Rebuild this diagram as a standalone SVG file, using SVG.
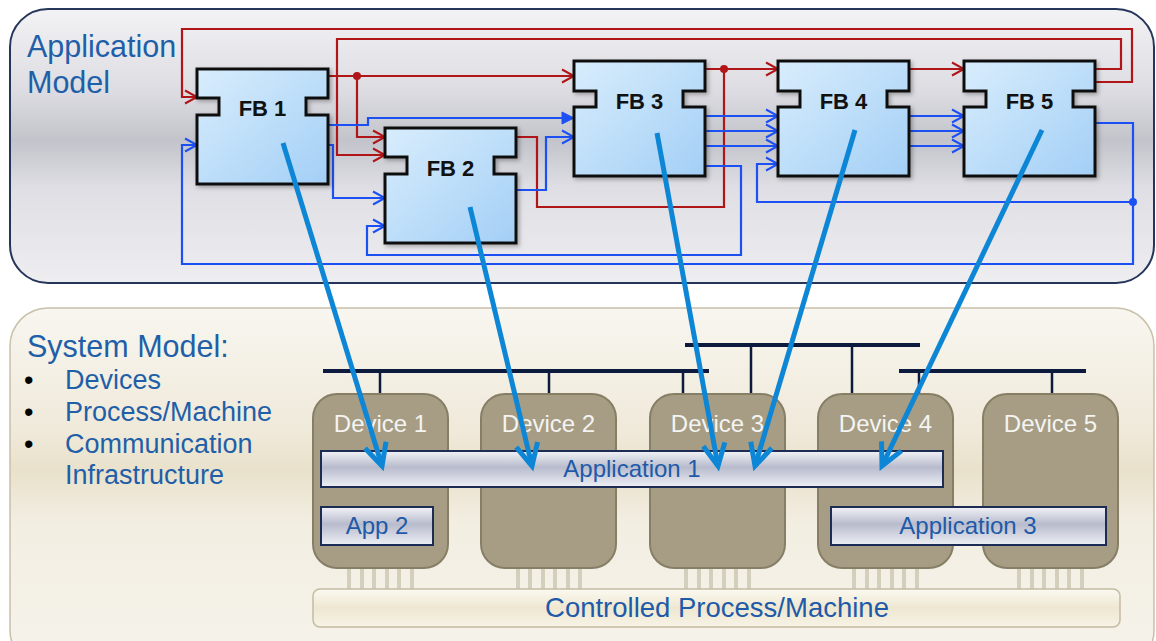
<svg xmlns="http://www.w3.org/2000/svg" width="1156" height="641" viewBox="0 0 1156 641">
<defs>
<linearGradient id="gApp" x1="0" y1="0" x2="0" y2="1">
<stop offset="0" stop-color="#f3f3f5"/><stop offset="0.3" stop-color="#dcdce2"/><stop offset="0.48" stop-color="#c3c3cb"/><stop offset="0.65" stop-color="#dedee4"/><stop offset="1" stop-color="#eeeef1"/>
</linearGradient>
<linearGradient id="gSys" x1="0" y1="0" x2="0" y2="1">
<stop offset="0" stop-color="#f8f6f0"/><stop offset="0.35" stop-color="#efe9d9"/><stop offset="0.45" stop-color="#e9e1cb"/><stop offset="0.6" stop-color="#f2eee2"/><stop offset="1" stop-color="#f6f3eb"/>
</linearGradient>
<linearGradient id="gFB" x1="0" y1="0" x2="1" y2="1">
<stop offset="0" stop-color="#d8edfc"/><stop offset="1" stop-color="#a3cff6"/>
</linearGradient>
<linearGradient id="gBar" x1="0" y1="0" x2="0" y2="1">
<stop offset="0" stop-color="#f2f3f7"/><stop offset="0.45" stop-color="#b7bbcc"/><stop offset="1" stop-color="#eef0f5"/>
</linearGradient>
<linearGradient id="gProc" x1="0" y1="0" x2="0" y2="1">
<stop offset="0" stop-color="#fbf9f1"/><stop offset="0.5" stop-color="#eee7d1"/><stop offset="1" stop-color="#f7f3e6"/>
</linearGradient>
<filter id="sh" x="-10%" y="-10%" width="130%" height="130%">
<feDropShadow dx="2" dy="2" stdDeviation="2" flood-color="#000" flood-opacity="0.3"/>
</filter>
<marker id="aR" markerUnits="userSpaceOnUse" markerWidth="16" markerHeight="16" refX="13" refY="7" orient="auto" overflow="visible">
<path d="M1,0.5 L13,7 L1,13.5" fill="none" stroke="#b01518" stroke-width="2"/>
</marker>
<marker id="aB" markerUnits="userSpaceOnUse" markerWidth="16" markerHeight="16" refX="13" refY="7" orient="auto" overflow="visible">
<path d="M1,0.5 L13,7 L1,13.5" fill="none" stroke="#1d50f2" stroke-width="2"/>
</marker>
<marker id="aBF" markerUnits="userSpaceOnUse" markerWidth="16" markerHeight="16" refX="13" refY="7" orient="auto" overflow="visible">
<path d="M1,1 L13,7 L1,13 Z" fill="#1d50f2" stroke="#1d50f2" stroke-width="1"/>
</marker>
<marker id="aM" markerUnits="userSpaceOnUse" markerWidth="30" markerHeight="30" refX="22" refY="11" orient="auto" overflow="visible">
<path d="M0,0 L22,11 L0,22" fill="none" stroke="#0e86d6" stroke-width="5"/>
</marker>
</defs>
<style>
.red{fill:none;stroke:#b01518;stroke-width:2.2}
.blue{fill:none;stroke:#1d50f2;stroke-width:2.2}
.map{fill:none;stroke:#0e86d6;stroke-width:5}
.fb{fill:url(#gFB);stroke:#111;stroke-width:3;filter:url(#sh)}
.fbt{font-family:"Liberation Sans",Arial,sans-serif;font-weight:bold;font-size:22px;fill:#111;text-anchor:middle}
.head{font-family:"Liberation Sans",Arial,sans-serif;font-size:30.5px;fill:#1f5fa8}
.item{font-family:"Liberation Sans",Arial,sans-serif;font-size:27px;fill:#1f5fa8}
.dev{fill:#a69d84;stroke:#877e66;stroke-width:2}
.devt{font-family:"Liberation Sans",Arial,sans-serif;font-size:24px;fill:#f4f4f2;text-anchor:middle}
.bar{fill:url(#gBar);stroke:#1c2c55;stroke-width:2}
.bart{font-family:"Liberation Sans",Arial,sans-serif;font-size:24px;fill:#1e5aa8;text-anchor:middle}
.bus{stroke:#0c1a3e;stroke-width:4;fill:none}
.drop{stroke:#0c1a3e;stroke-width:2.5;fill:none}
.pin{stroke:#b5ad96;stroke-width:3}
.pinh{stroke:#f3efe3;stroke-width:1}
</style>

<g id="application-model">
<rect x="10" y="9" width="1144" height="274" rx="38" fill="url(#gApp)" stroke="#26365a" stroke-width="2"/>
<text class="head" x="27" y="57">Application</text>
<text class="head" x="27" y="93">Model</text>
</g>

<g id="system-model">
<rect x="10" y="308" width="1144" height="360" rx="38" fill="url(#gSys)" stroke="#c9c0aa" stroke-width="1.5"/>
<text class="head" x="27" y="357">System Model:</text>
<text class="item" x="24" y="389" fill="#000" style="fill:#000">•</text>
<text class="item" x="65" y="389">Devices</text>
<text class="item" x="24" y="421" style="fill:#000">•</text>
<text class="item" x="65" y="421">Process/Machine</text>
<text class="item" x="24" y="453" style="fill:#000">•</text>
<text class="item" x="65" y="453">Communication</text>
<text class="item" x="65" y="484">Infrastructure</text>
</g>

<g id="communication">
<path class="bus" d="M323 371 H709 M685 345 H920 M899 371 H1086"/>
<path class="drop" d="M380 371 V394 M549 371 V394 M683 371 V394 M751 345 V394 M852 345 V394 M919 371 V394 M1052 371 V394"/>
</g>

<g id="pins">
<path class="pin" d="M349 569 V589 M362 569 V589 M374 569 V589 M387 569 V589 M399 569 V589 M412 569 V589 M518 569 V589 M530 569 V589 M543 569 V589 M555 569 V589 M568 569 V589 M580 569 V589 M686 569 V589 M699 569 V589 M711 569 V589 M724 569 V589 M736 569 V589 M749 569 V589 M854 569 V589 M867 569 V589 M879 569 V589 M892 569 V589 M904 569 V589 M917 569 V589 M1019 569 V589 M1032 569 V589 M1044 569 V589 M1057 569 V589 M1069 569 V589 M1082 569 V589"/>
<path class="pinh" d="M349 569 V589 M362 569 V589 M374 569 V589 M387 569 V589 M399 569 V589 M412 569 V589 M518 569 V589 M530 569 V589 M543 569 V589 M555 569 V589 M568 569 V589 M580 569 V589 M686 569 V589 M699 569 V589 M711 569 V589 M724 569 V589 M736 569 V589 M749 569 V589 M854 569 V589 M867 569 V589 M879 569 V589 M892 569 V589 M904 569 V589 M917 569 V589 M1019 569 V589 M1032 569 V589 M1044 569 V589 M1057 569 V589 M1069 569 V589 M1082 569 V589"/>
</g>

<g id="device1"><rect class="dev" x="313" y="394" width="135" height="174" rx="24"/><text class="devt" x="380.5" y="432">Device 1</text></g>
<g id="device2"><rect class="dev" x="481" y="394" width="135" height="174" rx="24"/><text class="devt" x="548.5" y="432">Device 2</text></g>
<g id="device3"><rect class="dev" x="650" y="394" width="135" height="174" rx="24"/><text class="devt" x="717.5" y="432">Device 3</text></g>
<g id="device4"><rect class="dev" x="818" y="394" width="135" height="174" rx="24"/><text class="devt" x="885.5" y="432">Device 4</text></g>
<g id="device5"><rect class="dev" x="983" y="394" width="135" height="174" rx="24"/><text class="devt" x="1050.5" y="432">Device 5</text></g>

<g id="application1"><rect class="bar" x="321" y="451" width="622" height="36"/><text class="bart" x="632" y="477">Application 1</text></g>
<g id="app2"><rect class="bar" x="321" y="507" width="112" height="38"/><text class="bart" x="377" y="534">App 2</text></g>
<g id="application3"><rect class="bar" x="831" y="507" width="275" height="38"/><text class="bart" x="968" y="534">Application 3</text></g>

<g id="process">
<rect x="313" y="589" width="807" height="38" rx="7" fill="url(#gProc)" stroke="#c4bba3" stroke-width="1.5"/>
<text x="717" y="617" text-anchor="middle" style="font-family:'Liberation Sans',Arial,sans-serif;font-size:27.5px;fill:#1e5aa8">Controlled Process/Machine</text>
</g>

<g id="connectors">
<path class="red" d="M1095 82 H1132 V29 H182 V97 H197" marker-end="url(#aR)"/>
<path class="red" d="M1095 69 H1121 V39 H337 V155 H385" marker-end="url(#aR)"/>
<path class="red" d="M328 76 H574" marker-end="url(#aR)"/>
<path class="red" d="M357 76 V137 H385" marker-end="url(#aR)"/>
<path class="red" d="M705 69 H778" marker-end="url(#aR)"/>
<path class="red" d="M516 137 H537 V207 H724 V69"/>
<path class="red" d="M909 69 H964" marker-end="url(#aR)"/>
<circle cx="357" cy="76" r="4" fill="#b01518"/>
<circle cx="724" cy="69" r="4" fill="#b01518"/>
<path class="blue" d="M328 125 H368 V118 H574" marker-end="url(#aBF)"/>
<path class="blue" d="M328 145 H333 V198 H385" marker-end="url(#aB)"/>
<path class="blue" d="M516 190 H546 V137 H574" marker-end="url(#aB)"/>
<path class="blue" d="M705 166 H741 V255 H367 V226 H385" marker-end="url(#aB)"/>
<path class="blue" d="M705 116 H778" marker-end="url(#aB)"/>
<path class="blue" d="M705 131 H778" marker-end="url(#aB)"/>
<path class="blue" d="M705 146 H778" marker-end="url(#aB)"/>
<path class="blue" d="M909 116 H964" marker-end="url(#aB)"/>
<path class="blue" d="M909 131 H964" marker-end="url(#aB)"/>
<path class="blue" d="M909 146 H964" marker-end="url(#aB)"/>
<path class="blue" d="M1095 123 H1133 V264 H182 V145 H197" marker-end="url(#aB)"/>
<path class="blue" d="M1133 202 H757 V164 H778" marker-end="url(#aB)"/>
<circle cx="1133" cy="202" r="4" fill="#1d50f2"/>
</g>

<g id="fb1"><path class="fb" d="M197 69 H328 V98 H306 V115 H328 V184 H197 V115 H219 V98 H197 Z"/><text class="fbt" x="262.5" y="116">FB 1</text></g>
<g id="fb2"><path class="fb" d="M385 128 H516 V157 H494 V174 H516 V243 H385 V174 H407 V157 H385 Z"/><text class="fbt" x="450.5" y="176">FB 2</text></g>
<g id="fb3"><path class="fb" d="M574 61 H705 V91 H683 V107 H705 V176 H574 V107 H596 V91 H574 Z"/><text class="fbt" x="639.5" y="109">FB 3</text></g>
<g id="fb4"><path class="fb" d="M778 61 H909 V91 H887 V107 H909 V176 H778 V107 H800 V91 H778 Z"/><text class="fbt" x="843.5" y="109">FB 4</text></g>
<g id="fb5"><path class="fb" d="M964 61 H1095 V91 H1073 V107 H1095 V176 H964 V107 H986 V91 H964 Z"/><text class="fbt" x="1029.5" y="109">FB 5</text></g>

<g id="mapping">
<path class="map" d="M283 143 L382 466" marker-end="url(#aM)"/>
<path class="map" d="M470 207 L532 466" marker-end="url(#aM)"/>
<path class="map" d="M657 133 L718 466" marker-end="url(#aM)"/>
<path class="map" d="M855 130 L755 466" marker-end="url(#aM)"/>
<path class="map" d="M1042 130 L882 466" marker-end="url(#aM)"/>
</g>
</svg>
